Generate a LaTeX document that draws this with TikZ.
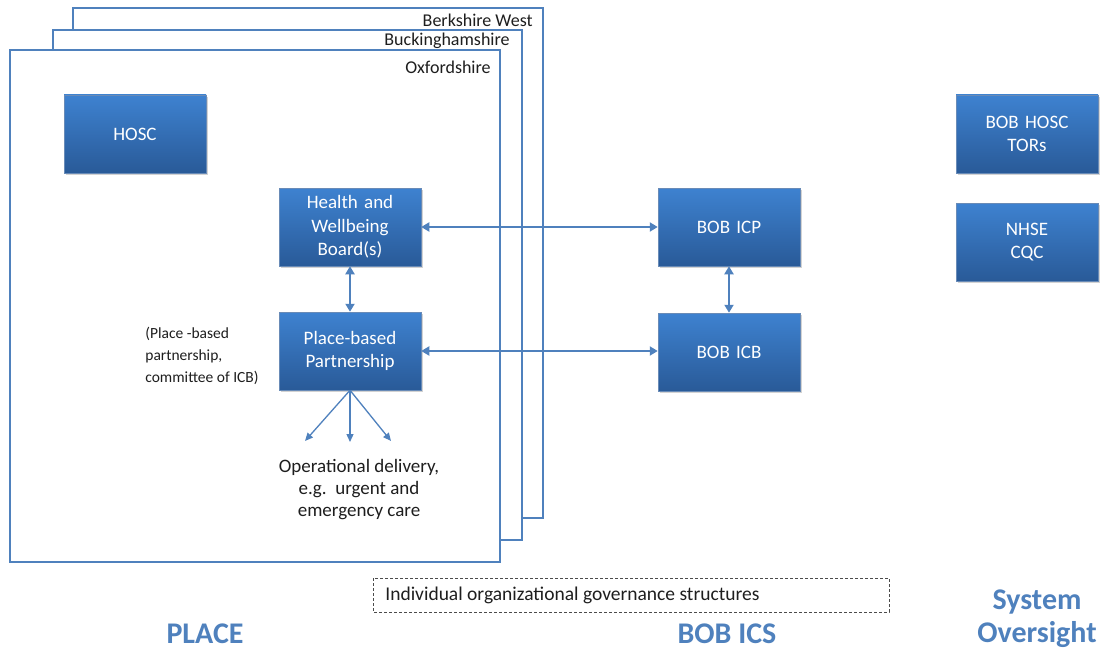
\documentclass[tikz,border=0pt]{standalone}
\usepackage{fontspec}
\setmainfont{Carlito}
\usetikzlibrary{arrows.meta,shadows}
\definecolor{frameblue}{RGB}{79,129,189}
\definecolor{boxtop}{RGB}{62,130,208}
\definecolor{boxbot}{RGB}{41,90,152}
\definecolor{textgrey}{RGB}{30,30,30}
\tikzset{every picture/.style={line width=0.75pt}}

\begin{document}
\begin{tikzpicture}[x=1pt,y=1pt,yscale=-1,xscale=1,
  govbox/.style={draw=boxbot!70!white, line width=0.5pt, top color=boxtop, bottom color=boxbot,
    minimum width=142pt, minimum height=78pt, text width=132pt, align=center, inner sep=0pt,
    text=white, font=\fontsize{19}{23.5}\selectfont,
    drop shadow={opacity=0.35, shadow xshift=1.5pt, shadow yshift=-2pt}},
  place/.style={draw=frameblue, line width=1.4pt, fill=white},
  framelabel/.style={anchor=east, inner sep=0pt, text=textgrey, font=\fontsize{18}{20}\selectfont},
  note/.style={inner sep=0pt, text=textgrey, font=\fontsize{15.5}{22}\selectfont},
  link/.style={draw=frameblue, line width=2.2pt, {Triangle[width=9pt,length=8pt]}-{Triangle[width=9pt,length=8pt]}},
  fan/.style={draw=frameblue, line width=1.3pt, -{Triangle[width=7pt,length=8pt]}},
  heading/.style={inner sep=0pt, text=frameblue, font=\fontsize{30}{33}\selectfont\bfseries}]
%uncomment if require: \path (0,650); %set diagram left start at 0, and has height of 650
\useasboundingbox (0,0) rectangle (1106,650);

%Shape: Rectangle [Berkshire West]
\draw [place] (73,8) -- (543,8) -- (543,518) -- (73,518) -- cycle ;
%Shape: Rectangle [Buckinghamshire]
\draw [place] (53,30) -- (522,30) -- (522,540) -- (53,540) -- cycle ;
%Shape: Rectangle [Oxfordshire]
\draw [place] (10,50) -- (500,50) -- (500,562) -- (10,562) -- cycle ;

% Text Node
\node [framelabel] (bwlabel) at (533,20) {Berkshire West};
% Text Node
\node [framelabel] (bklabel) at (510,41) {Buckinghamshire};
% Text Node
\node [framelabel] (oxlabel) at (491,67) {Oxfordshire};

% Boxes
\node [govbox] (hosc) at (135,134) {HOSC};
\node [govbox] (hwb) at (350,227) {Health and\\Wellbeing\\Board(s)};
\node [govbox] (pbp) at (350,351) {Place-based\\Partnership};
\node [govbox] (icp) at (729,227) {BOB ICP};
\node [govbox] (icb) at (729,352) {BOB ICB};
\node [govbox] (bobhosc) at (1027,134) {BOB HOSC\\TORs};
\node [govbox] (nhse) at (1027,242) {NHSE\\CQC};

% Links
\draw [link] (hwb.east) -- (icp.west |- hwb.east);
\draw [link] (pbp.east) -- (icb.west |- pbp.east);
\draw [link] (hwb.south) -- (pbp.north);
\draw [link] (icp.south) -- (icb.north);

% Fan out to delivery
\coordinate (fanl) at (305,441);
\coordinate (fanm) at (350,442);
\coordinate (fanr) at (391,441);
\draw [fan] (pbp.south) -- (fanl);
\draw [fan] (pbp.south) -- (fanm);
\draw [fan] (pbp.south) -- (fanr);

% Text Node
\node [note, align=center, font=\fontsize{19}{22}\selectfont] (ops) at (359,490) {Operational delivery,\\e.g.\ \ urgent and\\emergency care};
% Text Node
\node [note, align=left, anchor=west] (pbnote) at (145,356) {(Place -based\\partnership,\\committee of ICB)};

% Dashed box
\draw [draw=textgrey!80, line width=1pt, dash pattern=on 3pt off 2pt] (373,578) rectangle (889,612);
\node [note, anchor=west, font=\fontsize{19.5}{22}\selectfont] (indiv) at (385,595) {Individual organizational governance structures};

% Headings
\node [heading] (placehd) at (205,634) {PLACE};
\node [heading] (icshd) at (727,634) {BOB ICS};
\node [heading, align=center] (oversight) at (1037,619) {System\\Oversight};
\end{tikzpicture}
\end{document}
